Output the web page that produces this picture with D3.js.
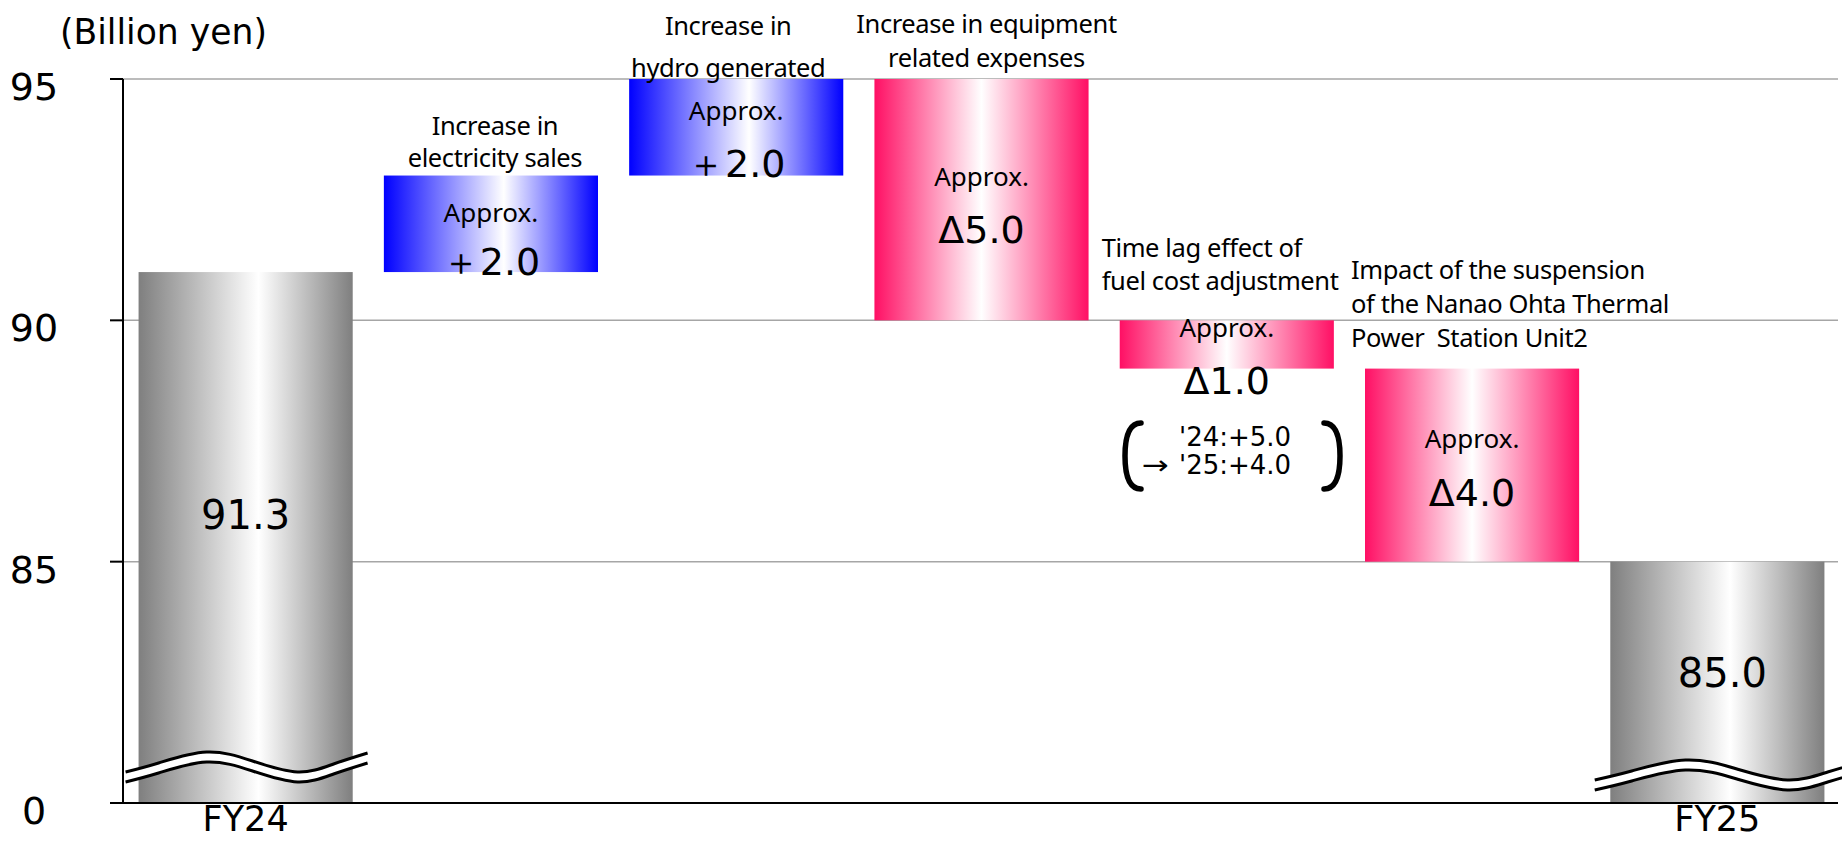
<!DOCTYPE html>
<html>
<head>
<meta charset="utf-8">
<script src="https://cdn.jsdelivr.net/npm/d3@7"></script>
<style>
  html, body { margin: 0; padding: 0; background: #fff; }
  svg { display: block; }
</style>
</head>
<body>
<svg id="chart" width="1842" height="842"></svg>
<script>
// ---------- data ----------
const categories   = ["FY24", "Electricity sales", "Hydro generated", "Equipment expenses", "Fuel cost time lag", "Nanao Ohta suspension", "FY25"];
const axisFloor    = 80;             // the broken axis bottom (shown as "0")
const startValue   = 91.0;           // FY24 bar top as drawn
const deltas       = [2.0, 2.0, -5.0, -1.0, -4.0];
const endValue     = 85.0;           // FY25
const barKinds     = ["total", "up", "up", "down", "down", "down", "total"];
const valueLabels  = ["91.3", "＋2.0", "＋2.0", "Δ5.0", "Δ1.0", "Δ4.0", "85.0"];
const approxLabels = ["", "Approx.", "Approx.", "Approx.", "Approx.", "Approx.", ""];
const categoryLabels = ["FY24", "", "", "", "", "", "FY25"];
const descriptions = [
  [],
  ["Increase in", "electricity sales"],
  ["Increase in", "hydro generated"],
  ["Increase in equipment", "related expenses"],
  ["Time lag effect of", "fuel cost adjustment"],
  ["Impact of the suspension", "of the Nanao Ohta Thermal", "Power  Station Unit2"]
];
const tickValues = [80, 85, 90, 95];
const tickLabels = ["0", "85", "90", "95"];
const unitLabel  = "(Billion yen)";
const noteLines  = ["'24:+5.0", "'25:+4.0"];
const noteArrow  = "→";

// ---------- build waterfall ----------
const bars = [];
let run = startValue;
bars.push({ i: 0, y0: axisFloor, y1: startValue });
deltas.forEach((d, k) => {
  bars.push({ i: k + 1, y0: run, y1: run + d });
  run += d;
});
bars.push({ i: 6, y0: axisFloor, y1: endValue });

// ---------- layout ----------
const svg = d3.select("#chart");
const x = d3.scaleBand().domain(categories).range([123, 1840]).paddingInner(0.127).paddingOuter(0.0635);
const y = d3.scaleLinear().domain([axisFloor, 95]).range([803, 79]);

const numFont  = "'DejaVu Sans', Verdana, sans-serif";
const textFont = "'Noto Sans', 'Open Sans', sans-serif";

// gradients
const defs = svg.append("defs");
function grad(id, c, mid) {
  const g = defs.append("linearGradient").attr("id", id)
    .attr("x1", "0%").attr("x2", "100%").attr("y1", "0%").attr("y2", "0%");
  g.append("stop").attr("offset", "0%").attr("stop-color", c);
  g.append("stop").attr("offset", (mid * 100) + "%").attr("stop-color", "#ffffff");
  g.append("stop").attr("offset", "100%").attr("stop-color", c);
}
grad("g-total", "#7f7f7f", 0.56);
grad("g-up", "#0000ff", 0.56);
grad("g-down", "#ff0f64", 0.5);

// gridlines
svg.append("g").selectAll("line").data(tickValues.filter(t => t > axisFloor)).join("line")
  .attr("x1", 123).attr("x2", 1838)
  .attr("y1", d => y(d)).attr("y2", d => y(d))
  .attr("stroke", "#a6a6a6").attr("stroke-width", 1.5);

// bars
svg.append("g").selectAll("rect").data(bars).join("rect")
  .attr("x", d => x(categories[d.i]))
  .attr("width", x.bandwidth())
  .attr("y", d => y(Math.max(d.y0, d.y1)))
  .attr("height", d => Math.abs(y(d.y0) - y(d.y1)))
  .attr("fill", d => "url(#g-" + barKinds[d.i] + ")");

// axis break waves on the total bars
const waveShape = [[-13, 0], [20, -9], [68, -20], [114, -11], [159, 0], [195, -8], [229, -19]];
const waveFit   = { 0: { lift: 31, sx: 1.0, dx: 0 }, 6: { lift: 23, sx: 1.12, dx: -1 } };
const waveLine = d3.line().curve(d3.curveNatural);
bars.filter(d => barKinds[d.i] === "total").forEach(d => {
  const bx = x(categories[d.i]);
  const f = waveFit[d.i];
  const base = y(axisFloor) - f.lift;
  const up = waveShape.map(p => [bx + f.dx + p[0] * f.sx, base + p[1]]);
  const lo = waveShape.map(p => [bx + f.dx + p[0] * f.sx, base + p[1] + 10]);
  svg.append("path")
    .attr("d", waveLine(up) + "L" + waveLine(lo.slice().reverse()).slice(1))
    .attr("fill", "#ffffff").attr("stroke", "none");
  svg.append("path").attr("d", waveLine(up)).attr("fill", "none").attr("stroke", "#000").attr("stroke-width", 3);
  svg.append("path").attr("d", waveLine(lo)).attr("fill", "none").attr("stroke", "#000").attr("stroke-width", 3);
});

// axes
svg.append("line").attr("x1", 123).attr("x2", 123).attr("y1", y(95)).attr("y2", y(axisFloor))
  .attr("stroke", "#000").attr("stroke-width", 2);
svg.append("line").attr("x1", 110).attr("x2", 1838).attr("y1", y(axisFloor)).attr("y2", y(axisFloor))
  .attr("stroke", "#000").attr("stroke-width", 2);
svg.append("g").selectAll("line").data(tickValues.filter(t => t > axisFloor)).join("line")
  .attr("x1", 110).attr("x2", 123).attr("y1", d => y(d)).attr("y2", d => y(d))
  .attr("stroke", "#000").attr("stroke-width", 2);
svg.append("g").selectAll("text").data(tickValues).join("text")
  .attr("x", 34).attr("y", d => y(d) + 21)
  .attr("text-anchor", "middle")
  .attr("font-family", numFont).attr("font-size", 38).attr("fill", "#000")
  .text((d, k) => tickLabels[k]);

svg.append("text").attr("x", 60).attr("y", 44)
  .attr("font-family", numFont).attr("font-size", 35).attr("fill", "#000")
  .attr("textLength", 207).attr("lengthAdjust", "spacingAndGlyphs")
  .text(unitLabel);

// category labels
svg.append("g").selectAll("text").data(bars.filter(d => categoryLabels[d.i])).join("text")
  .attr("x", d => x(categories[d.i]) + x.bandwidth() / 2)
  .attr("y", 831)
  .attr("text-anchor", "middle")
  .attr("font-family", numFont).attr("font-size", 35).attr("fill", "#000")
  .text(d => categoryLabels[d.i]);

// per-bar text layout (pixel offsets for annotations)
const layout = [
  { val: 529 },
  { desc: [135, 167], dAnchor: "middle", dx: 4,   approx: 222, val: 275 },
  { desc: [35, 77],   dAnchor: "middle", dx: -8,  approx: 120, val: 177 },
  { desc: [33, 67],   dAnchor: "middle", dx: 5,   approx: 186, val: 243 },
  { desc: [257, 290], dAnchor: "start",  dx: -18, approx: 337, val: 394 },
  { desc: [279, 313, 347], dAnchor: "start", dx: -14, approx: 448, val: 506 },
  { val: 687 }
];

bars.forEach(d => {
  const L = layout[d.i];
  const bx = x(categories[d.i]);
  const cx = bx + x.bandwidth() / 2;
  if (descriptions[d.i] && descriptions[d.i].length) {
    const ax = L.dAnchor === "middle" ? cx + L.dx : bx + L.dx;
    descriptions[d.i].forEach((line, k) => {
      svg.append("text").attr("x", ax).attr("y", L.desc[k])
        .attr("text-anchor", L.dAnchor)
        .attr("font-family", textFont).attr("font-size", 25.5).attr("fill", "#000")
        .attr("letter-spacing", -0.4)
        .style("white-space", "pre")
        .text(line);
    });
  }
  if (approxLabels[d.i]) {
    svg.append("text").attr("x", cx).attr("y", L.approx)
      .attr("text-anchor", "middle")
      .attr("font-family", textFont).attr("font-size", 26).attr("fill", "#000")
      .text(approxLabels[d.i]);
  }
  svg.append("text").attr("x", cx + (d.i === 6 ? 5 : 0)).attr("y", L.val)
    .attr("text-anchor", "middle")
    .attr("font-family", numFont).attr("font-size", (d.i === 0 || d.i === 6) ? 40 : 38).attr("fill", "#000")
    .text(valueLabels[d.i]);
});

// fuel cost note with brackets
svg.append("text").attr("x", 1179).attr("y", 446)
  .attr("font-family", numFont).attr("font-size", 26).attr("fill", "#000").text(noteLines[0]);
svg.append("text").attr("x", 1179).attr("y", 474)
  .attr("font-family", numFont).attr("font-size", 26).attr("fill", "#000").text(noteLines[1]);
svg.append("text").attr("x", 1142).attr("y", 474)
  .attr("font-family", numFont).attr("font-size", 26).attr("fill", "#000")
  .attr("textLength", 27).attr("lengthAdjust", "spacingAndGlyphs").text(noteArrow);
svg.append("path").attr("d", "M1141,423 Q1125,423 1125,456 Q1125,489 1141,489")
  .attr("fill", "none").attr("stroke", "#000").attr("stroke-width", 5.5).attr("stroke-linecap", "round");
svg.append("path").attr("d", "M1324,423 Q1340,423 1340,456 Q1340,489 1324,489")
  .attr("fill", "none").attr("stroke", "#000").attr("stroke-width", 5.5).attr("stroke-linecap", "round");
</script>
</body>
</html>
